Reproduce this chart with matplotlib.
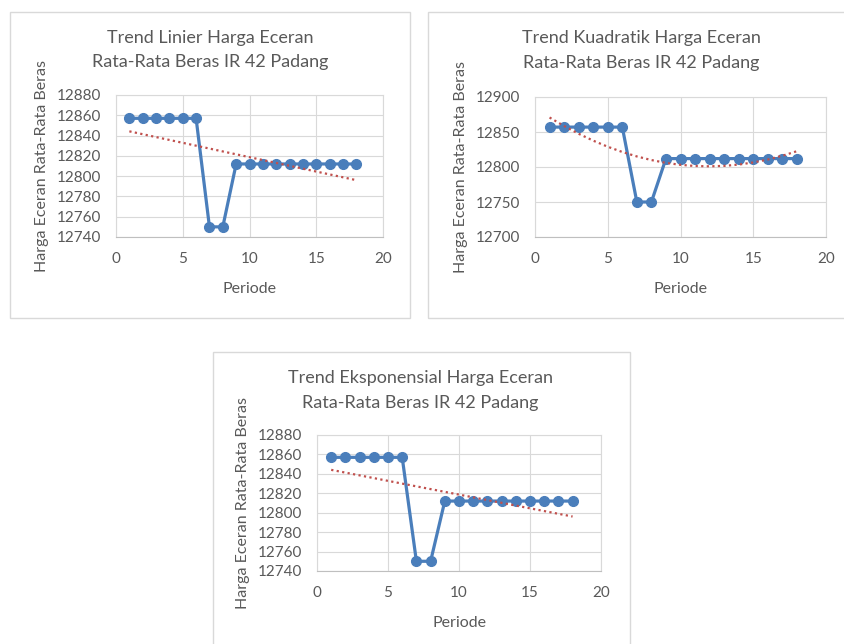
import numpy as np
import matplotlib.pyplot as plt
from matplotlib.patches import Rectangle

plt.rcParams['font.family'] = ['Lato', 'DejaVu Sans']

periode = [1, 2, 3, 4, 5, 6, 7, 8, 9, 10, 11, 12, 13, 14, 15, 16, 17, 18]
harga = [12857, 12857, 12857, 12857, 12857, 12857, 12750, 12750,
         12812, 12812, 12812, 12812, 12812, 12812, 12812, 12812, 12812, 12812]

judul = [("Trend Linier Harga Eceran", "Rata-Rata Beras IR 42 Padang"),
         ("Trend Kuadratik Harga Eceran", "Rata-Rata Beras IR 42 Padang"),
         ("Trend Eksponensial Harga Eceran", "Rata-Rata Beras IR 42 Padang")]
ylim = [(12740, 12880), (12700, 12900), (12740, 12880)]
ystep = [20, 50, 20]

W, H = 844, 644
fig = plt.figure(figsize=(W / 100, H / 100), dpi=100)

GRAY = '#595959'
BLUE = '#4a7ebb'
RED = '#c0504d'

x = np.array(periode, dtype=float)
y = np.array(harga, dtype=float)


def trend(kind):
    if kind == 0:
        c = np.polyfit(x, y, 1)
        return np.polyval(c, x)
    if kind == 1:
        c = np.polyfit(x, y, 2)
        return np.polyval(c, x)
    c = np.polyfit(x, np.log(y), 1)
    return np.exp(np.polyval(c, x))


def px_axes(l, t, r, b):
    return [l / W, 1 - b / H, (r - l) / W, (b - t) / H]


# chart frames (left, top, right, bottom in pixels)
frames = [(10, 12, 410, 318), (428, 12, 854, 318), (213, 352, 630, 650)]
plots = [(116, 95, 383, 237), (535, 97, 826, 237), (317, 435, 601, 571)]
# title centre x and baselines of the two title lines
titles = [(210, 43, 67), (641, 43, 68), (420, 383, 408)]

for i in range(3):
    l, t, r, b = frames[i]
    fig.patches.append(Rectangle((l / W, 1 - b / H), (r - l) / W, (b - t) / H,
                                 transform=fig.transFigure, fill=False,
                                 edgecolor='#d9d9d9', linewidth=1))
    tx, b1, b2 = titles[i]
    for line, base in zip(judul[i], (b1, b2)):
        fig.text(tx / W, 1 - base / H, line, ha='center', va='baseline',
                 fontsize=13, color=GRAY)

    ax = fig.add_axes(px_axes(*plots[i]))
    ax.plot(x, y, color=BLUE, linewidth=2.3, marker='o', markersize=7, zorder=3)
    ax.plot(x, trend(i), color=RED, linestyle=(0, (1, 1.5)), linewidth=1.6, zorder=4)
    ax.set_xlim(0, 20)
    ax.set_ylim(*ylim[i])
    ax.set_xticks(range(0, 21, 5))
    ax.set_yticks(np.arange(ylim[i][0], ylim[i][1] + 1, ystep[i]))
    ax.grid(True, color='#d9d9d9', linewidth=0.8)
    ax.set_axisbelow(True)
    for s in ax.spines.values():
        s.set_color('#d9d9d9')
        s.set_linewidth(0.8)
    ax.spines['bottom'].set_color('#bfbfbf')
    ax.tick_params(length=0, labelsize=11, colors=GRAY, pad=10.5)
    ax.set_xlabel('Periode', fontsize=11.5, color=GRAY, labelpad=12)
    ax.set_ylabel('Harga Eceran Rata-Rata Beras', fontsize=11.5, color=GRAY, labelpad=6)

fig.savefig('out.png', dpi=100)
